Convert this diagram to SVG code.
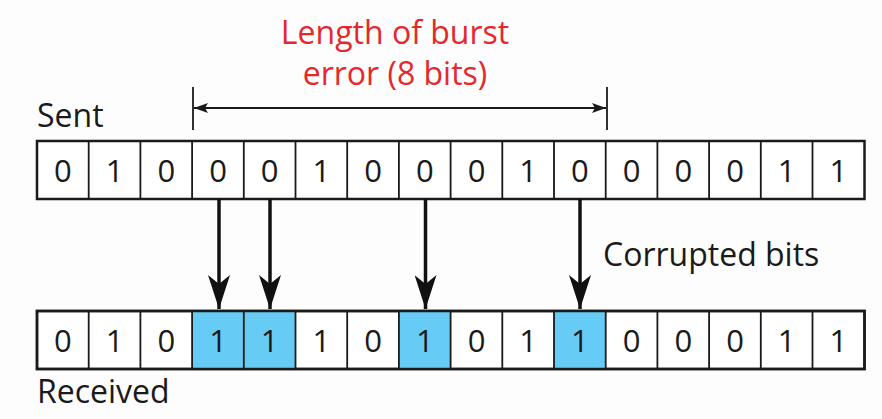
<svg xmlns="http://www.w3.org/2000/svg" width="882" height="419" viewBox="0 0 882 419">
<defs>
<style>
text{font-family:"Open Sans","Liberation Sans",sans-serif;fill:#1a1a1a}
.lbl{font-size:32px}
.bit{font-size:31px;text-anchor:middle}
.red{fill:#e5282c;font-size:32px;text-anchor:middle}
.cell{fill:#fff;stroke:#1a1a1a;stroke-width:2.5}
.hit{fill:#66ccf5}
.dim{stroke:#1a1a1a;stroke-width:1.8;fill:none}
.arr{stroke:#111;stroke-width:3.5;fill:none}
</style>
<marker id="dh" viewBox="0 0 14 10" refX="14" refY="5" markerWidth="14" markerHeight="10" markerUnits="userSpaceOnUse" orient="auto-start-reverse">
<path d="M0,0 L14,5 L0,10 L3,5 Z" fill="#1a1a1a"/>
</marker>
<marker id="ah" viewBox="0 0 34 22" refX="34" refY="11" markerWidth="34" markerHeight="22" markerUnits="userSpaceOnUse" orient="auto">
<path d="M0,0 L34,11 L0,22 L9,11 Z" fill="#111"/>
</marker>
</defs>
<rect width="882" height="419" fill="#fdfdfd"/>
<g id="title">
<text class="red" x="395" y="44">Length of burst</text>
<text class="red" x="395" y="85">error (8 bits)</text>
</g>
<g id="burst-length">
<line class="dim" x1="193" y1="87" x2="193" y2="130"/>
<line class="dim" x1="607" y1="87" x2="607" y2="130"/>
<line class="dim" x1="194" y1="108" x2="606" y2="108" marker-start="url(#dh)" marker-end="url(#dh)"/>
</g>
<g id="sent-label"><text class="lbl" x="37" y="127">Sent</text></g>
<g id="sent">
<rect class="cell" x="37" y="141" width="827.5" height="58"/>
<path class="dim" stroke-width="2.5" d="M88.7,141V199M140.4,141V199M192.1,141V199M243.8,141V199M295.5,141V199M347.2,141V199M398.9,141V199M450.6,141V199M502.3,141V199M554,141V199M605.7,141V199M657.4,141V199M709.1,141V199M760.8,141V199M812.5,141V199"/>
<text class="bit" y="182"><tspan x="62.9">0</tspan><tspan x="114.6">1</tspan><tspan x="166.3">0</tspan><tspan x="218">0</tspan><tspan x="269.7">0</tspan><tspan x="321.4">1</tspan><tspan x="373.1">0</tspan><tspan x="424.8">0</tspan><tspan x="476.5">0</tspan><tspan x="528.2">1</tspan><tspan x="579.9">0</tspan><tspan x="631.6">0</tspan><tspan x="683.3">0</tspan><tspan x="735">0</tspan><tspan x="786.7">1</tspan><tspan x="838.4">1</tspan></text>
</g>
<g id="received">
<rect class="cell" x="37" y="311" width="827.5" height="58"/>
<rect class="hit" x="192.1" y="311" width="103.4" height="58"/>
<rect class="hit" x="398.9" y="311" width="51.7" height="58"/>
<rect class="hit" x="554" y="311" width="51.7" height="58"/>
<rect x="37" y="311" width="827.5" height="58" fill="none" stroke="#1a1a1a" stroke-width="2.5"/>
<path class="dim" stroke-width="2.5" d="M88.7,311V369M140.4,311V369M192.1,311V369M243.8,311V369M295.5,311V369M347.2,311V369M398.9,311V369M450.6,311V369M502.3,311V369M554,311V369M605.7,311V369M657.4,311V369M709.1,311V369M760.8,311V369M812.5,311V369"/>
<text class="bit" y="352"><tspan x="62.9">0</tspan><tspan x="114.6">1</tspan><tspan x="166.3">0</tspan><tspan x="218">1</tspan><tspan x="269.7">1</tspan><tspan x="321.4">1</tspan><tspan x="373.1">0</tspan><tspan x="424.8">1</tspan><tspan x="476.5">0</tspan><tspan x="528.2">1</tspan><tspan x="579.9">1</tspan><tspan x="631.6">0</tspan><tspan x="683.3">0</tspan><tspan x="735">0</tspan><tspan x="786.7">1</tspan><tspan x="838.4">1</tspan></text>
</g>
<g id="received-label"><text class="lbl" x="37" y="403">Received</text></g>
<g id="connectors">
<line class="arr" x1="219" y1="199" x2="219" y2="309" marker-end="url(#ah)"/>
<line class="arr" x1="270" y1="199" x2="270" y2="309" marker-end="url(#ah)"/>
<line class="arr" x1="425.5" y1="199" x2="425.5" y2="309" marker-end="url(#ah)"/>
<line class="arr" x1="580" y1="199" x2="580" y2="309" marker-end="url(#ah)"/>
</g>
<g id="corrupted-label"><text class="lbl" x="603" y="266">Corrupted bits</text></g>
</svg>
